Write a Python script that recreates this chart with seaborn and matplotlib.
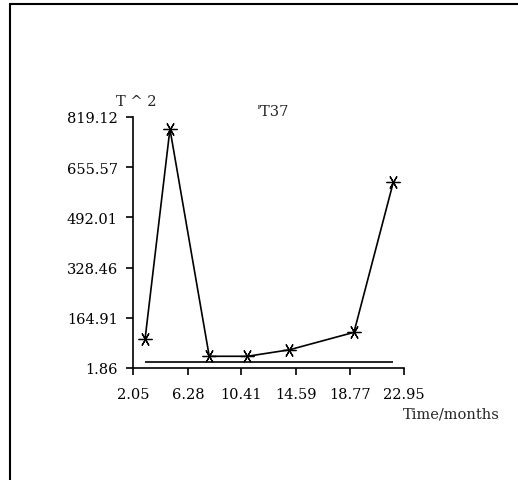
import numpy as np
import pandas as pd
import seaborn as sns
import matplotlib.pyplot as plt
from matplotlib.lines import Line2D

# values
months = [2.98, 4.90, 7.93, 10.86, 14.10, 19.09, 22.12]
t_squared = [96, 780, 40, 40, 61, 118, 606]
baseline_level = 20

x_ticks = [2.05, 6.28, 10.41, 14.59, 18.77, 22.95]
y_ticks = [1.86, 164.91, 328.46, 492.01, 655.57, 819.12]

df = pd.DataFrame({'month': months, 't2': t_squared})

sns.set_style('white')
plt.rcParams['font.family'] = ['DejaVu Serif', 'DejaVu Sans']

fig = plt.figure(figsize=(5.18, 4.81), dpi=100)
ax = fig.add_axes([133 / 518, 112 / 481, 271 / 518, 251 / 481])

sns.lineplot(data=df, x='month', y='t2', ax=ax, color='black', linewidth=1.2,
             marker=(6, 2, 30), markersize=10, markeredgecolor='black',
             markeredgewidth=0.9)
ax.hlines(baseline_level, months[0], months[-1], color='black', linewidth=1.2)

ax.set_xlim(x_ticks[0], x_ticks[-1])
ax.set_ylim(y_ticks[0], y_ticks[-1])
ax.set_xticks(x_ticks)
ax.set_yticks(y_ticks)
ax.set_xticklabels([f'{v:.2f}' for v in x_ticks])
ax.set_yticklabels([f'{v:.2f}' for v in y_ticks])
ax.tick_params(direction='out', length=5, width=1.2, colors='black',
               labelsize=10.5, pad=6, left=True, bottom=True)
ax.tick_params(axis='x', pad=9)
ax.set_xlabel('')
ax.set_ylabel('')
sns.despine(ax=ax)
for s in ['left', 'bottom']:
    ax.spines[s].set_linewidth(1.2)
    ax.spines[s].set_color('black')

fig.text(136 / 518, 1 - 102 / 481, 'T ^ 2', ha='center', va='center', fontsize=10.5)
fig.text(273 / 518, 1 - 112 / 481, "'T37", ha='center', va='center', fontsize=10.5)
fig.text(500 / 518, 1 - 415 / 481, 'Time/months', ha='right', va='center', fontsize=10.5)

# outer frame (left and top edges)
fig.add_artist(Line2D([9.5 / 518, 9.5 / 518], [0, 1 - 5 / 481], color='black', linewidth=1.5))
fig.add_artist(Line2D([9.5 / 518, 1], [1 - 5 / 481, 1 - 5 / 481], color='black', linewidth=1.5))

fig.savefig('out.png', dpi=100)
